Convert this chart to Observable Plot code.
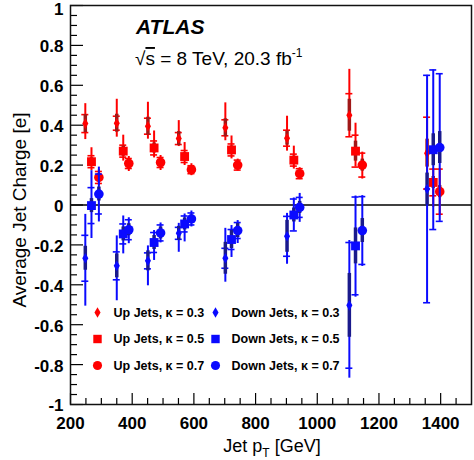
<!DOCTYPE html>
<html><head><meta charset="utf-8">
<script src="https://cdn.jsdelivr.net/npm/d3@7"></script>
<script src="https://cdn.jsdelivr.net/npm/@observablehq/plot@0.6"></script>
<style>body{margin:0;background:#fff}#chart{width:474px;height:460px}</style>
</head><body><div id="chart"></div>
<script>
// ---- data ----
const ptKappa03 = [248, 350, 451, 551, 702, 902, 1104, 1356];
const ptKappa05 = [268, 371, 471, 570, 722, 924, 1124, 1376];
const ptKappa07 = [292, 389, 492, 592, 742, 943, 1146, 1397];

const upK03 = [0.408, 0.41, 0.395, 0.333, 0.387, 0.335, 0.45, 0.26];
const upK05 = [0.217, 0.27, 0.286, 0.243, 0.276, 0.225, 0.27, 0.113];
const upK07 = [0.138, 0.208, 0.213, 0.177, 0.2, 0.157, 0.2, 0.067];
const downK03 = [-0.267, -0.305, -0.28, -0.142, -0.267, -0.157, -0.503, 0.08];
const downK05 = [-0.003, -0.145, -0.188, -0.095, -0.173, -0.05, -0.205, 0.277];
const downK07 = [0.055, -0.124, -0.14, -0.07, -0.128, -0.012, -0.128, 0.288];

// total error (upper / lower), inner error (caps), statistical (thick)
const errHiUpK03 = [0.10, 0.12, 0.12, 0.09, 0.125, 0.11, 0.23, 0.18];
const errLoUpK03 = [0.08, 0.07, 0.065, 0.04, 0.065, 0.065, 0.11, 0.18];
const capUpK03 = [0.045, 0.035, 0.04, 0.03, 0.04, 0.04, 0.108, 0.18];
const statUpK03 = [0.045, 0.045, 0.045, 0.035, 0.045, 0.035, 0.08, 0.07];

const errHiUpK05 = [0.07, 0.08, 0.085, 0.07, 0.07, 0.07, 0.14, 0.07];
const errLoUpK05 = [0.045, 0.05, 0.05, 0.045, 0.045, 0.045, 0.08, 0.125];
const capUpK05 = [0.03, 0.03, 0.035, 0.03, 0.03, 0.03, 0.08, 0.067];
const statUpK05 = [0.02, 0.025, 0.025, 0.02, 0.02, 0.02, 0.05, 0.03];

const errHiUpK07 = [0.04, 0.035, 0.035, 0.03, 0.03, 0.03, 0.065, 0.115];
const errLoUpK07 = [0.04, 0.04, 0.04, 0.03, 0.03, 0.03, 0.07, 0.12];
const capUpK07 = [0.03, 0.025, 0.025, 0.02, 0.025, 0.025, 0.06, 0.113];
const statUpK07 = [0.015, 0.015, 0.015, 0.015, 0.015, 0.015, 0.03, 0.03];

const errHiDownK03 = [0.22, 0.15, 0.075, 0.05, 0.15, 0.115, 0.325, 0.57];
const errLoDownK03 = [0.24, 0.175, 0.125, 0.095, 0.12, 0.14, 0.365, 0.57];
const capDownK03 = [0.115, 0.07, 0.04, 0.03, 0.05, 0.1, 0.315, 0.57];
const statDownK03 = [0.06, 0.06, 0.05, 0.035, 0.08, 0.08, 0.16, 0.08];

const errHiDownK05 = [0.175, 0.09, 0.06, 0.05, 0.07, 0.085, 0.25, 0.4];
const errLoDownK05 = [0.165, 0.1, 0.09, 0.09, 0.09, 0.08, 0.257, 0.4];
const capDownK05 = [0.09, 0.05, 0.05, 0.04, 0.05, 0.08, 0.245, 0.4];
const statDownK05 = [0.035, 0.035, 0.035, 0.03, 0.045, 0.035, 0.09, 0.08];

const errHiDownK07 = [0.135, 0.06, 0.05, 0.04, 0.05, 0.07, 0.175, 0.37];
const errLoDownK07 = [0.14, 0.07, 0.05, 0.04, 0.065, 0.075, 0.18, 0.37];
const capDownK07 = [0.1, 0.05, 0.04, 0.03, 0.04, 0.05, 0.17, 0.37];
const statDownK07 = [0.035, 0.03, 0.03, 0.02, 0.035, 0.03, 0.06, 0.08];

const seriesLabels = ["Up Jets, κ = 0.3", "Up Jets, κ = 0.5", "Up Jets, κ = 0.7",
                      "Down Jets, κ = 0.3", "Down Jets, κ = 0.5", "Down Jets, κ = 0.7"];
const xMajorTicks = [200, 400, 600, 800, 1000, 1200, 1400];
const yMajorTicks = [-1, -0.8, -0.6, -0.4, -0.2, 0, 0.2, 0.4, 0.6, 0.8, 1];
const yTopTick = [1];
const xMinorTicks = d3.range(250, 1500, 50).filter(v => v % 200 !== 0);
const yMinorTicks = d3.range(-0.95, 1, 0.05).map(v => +v.toFixed(2)).filter(v => Math.abs(Math.round(v * 5) - v * 5) > 1e-6);

// ---- styles ----
const RED = "#ff0000", BLUE = "#0a0aff";
const RED_STAT = "#a01818", BLUE_STAT = "#1a1a8c";
const FONT = "'Liberation Sans', Arial, Helvetica, sans-serif";
const symDiamond = {symbol: "diamond", r: 3.2};
const symSquare = {symbol: "square", r: 5.0};
const symCircle = {symbol: "circle", r: 4.8};

const series = [
  {label: seriesLabels[0], x: ptKappa03, y: upK03, hi: errHiUpK03, lo: errLoUpK03, cap: capUpK03, stat: statUpK03, color: RED, statColor: RED_STAT, ...symDiamond},
  {label: seriesLabels[1], x: ptKappa05, y: upK05, hi: errHiUpK05, lo: errLoUpK05, cap: capUpK05, stat: statUpK05, color: RED, statColor: RED_STAT, ...symSquare},
  {label: seriesLabels[2], x: ptKappa07, y: upK07, hi: errHiUpK07, lo: errLoUpK07, cap: capUpK07, stat: statUpK07, color: RED, statColor: RED_STAT, ...symCircle},
  {label: seriesLabels[3], x: ptKappa03, y: downK03, hi: errHiDownK03, lo: errLoDownK03, cap: capDownK03, stat: statDownK03, color: BLUE, statColor: BLUE_STAT, ...symDiamond},
  {label: seriesLabels[4], x: ptKappa05, y: downK05, hi: errHiDownK05, lo: errLoDownK05, cap: capDownK05, stat: statDownK05, color: BLUE, statColor: BLUE_STAT, ...symSquare},
  {label: seriesLabels[5], x: ptKappa07, y: downK07, hi: errHiDownK07, lo: errLoDownK07, cap: capDownK07, stat: statDownK07, color: BLUE, statColor: BLUE_STAT, ...symCircle}
];

const W = 474, H = 460, mL = 70, mR = 3, mT = 5, mB = 56;
const fw = W - mL - mR, fh = H - mT - mB;

const dataMarks = [];
for (const s of series) {
  const rows = s.x.map((x, i) => ({
    x, y: s.y[i],
    hi: s.y[i] + s.hi[i], lo: s.y[i] - s.lo[i],
    sHi: s.y[i] + s.stat[i], sLo: s.y[i] - s.stat[i]
  }));
  const caps = s.x.flatMap((x, i) => [{x, y: s.y[i] + s.cap[i]}, {x, y: s.y[i] - s.cap[i]}]);
  dataMarks.push(
    Plot.ruleX(rows, {x: "x", y1: "lo", y2: "hi", stroke: s.color, strokeWidth: 2}),
    Plot.ruleY(caps, {y: "y", x1: "x", x2: "x", insetLeft: -3.5, insetRight: -3.5, stroke: s.color, strokeWidth: 1.6}),
    Plot.ruleX(rows, {x: "x", y1: "sLo", y2: "sHi", stroke: s.statColor, strokeWidth: 3.5}),
    Plot.dot(rows, {x: "x", y: "y", symbol: s.symbol, r: s.r, fill: s.color, stroke: "none"})
  );
}

// legend (inside the frame, bottom-left)
const legendMarks = [];
const legCols = [{mx: 27, tx: 43}, {mx: 145, tx: 161}];
const legRows = [307, 333.5, 360];
series.forEach((s, k) => {
  const c = legCols[Math.floor(k / 3)], r = legRows[k % 3];
  legendMarks.push(
    Plot.dot([s.label], {frameAnchor: "top-left", dx: c.mx, dy: r, symbol: s.symbol,
      r: s.symbol === "diamond" ? 3.2 : s.r * 0.95, fill: s.color, stroke: "none"}),
    Plot.text([s.label], {text: d => d, frameAnchor: "top-left", dx: c.tx, dy: r, textAnchor: "start",
      lineAnchor: "middle", fontSize: 12.5, fontWeight: "bold", fill: "#000"})
  );
});

const svg = Plot.plot({
  width: W, height: H, marginLeft: mL, marginRight: mR, marginTop: mT, marginBottom: mB,
  style: {fontFamily: FONT, background: "#fff", color: "#000"},
  x: {domain: [200, 1500]},
  y: {domain: [-1, 1]},
  marks: [
    Plot.ruleX(xMinorTicks, {x: d => d, insetTop: fh - 6, stroke: "#000", strokeWidth: 1.2}),
    Plot.ruleX(xMajorTicks, {x: d => d, insetTop: fh - 11, stroke: "#000", strokeWidth: 1.2}),
    Plot.ruleY(yMinorTicks, {y: d => d, insetRight: fw - 7, stroke: "#000", strokeWidth: 1.2}),
    Plot.ruleY(yMajorTicks, {y: d => d, insetRight: fw - 13, stroke: "#000", strokeWidth: 1.2}),
    Plot.axisX({ticks: xMajorTicks, tickSize: 0, tickPadding: 12, tickFormat: d => String(d),
      fontSize: 17, fontWeight: "bold", label: null}),
    Plot.axisY({ticks: yMajorTicks.filter(v => v !== 1), tickSize: 0, tickPadding: 7, tickFormat: d => String(+d.toFixed(1)),
      fontSize: 17, fontWeight: "bold", label: null, dy: 1.5}),
    Plot.axisY({ticks: yTopTick, tickSize: 0, tickPadding: 7, tickFormat: d => String(d),
      fontSize: 17, fontWeight: "bold", label: null, dy: 4}),
    Plot.ruleY([0], {stroke: "#000", strokeWidth: 1.5}),
    ...dataMarks,
    ...legendMarks,
    Plot.frame({stroke: "#111", strokeWidth: 1.5})
  ]
});
document.getElementById("chart").appendChild(svg);

// titles & axis labels as real text
const g = d3.select(svg).append("g").attr("font-family", FONT).attr("fill", "#000").attr("text-anchor", "start");
g.append("text").attr("x", 136).attr("y", 34).attr("font-size", 21)
  .attr("font-weight", "bold").attr("font-style", "italic").text("ATLAS");
const e = g.append("text").attr("x", 135).attr("y", 65).attr("font-size", 19);
e.append("tspan").text("√");
e.append("tspan").attr("style", "text-decoration: overline").text("s");
e.append("tspan").text(" = 8 TeV, 20.3 fb");
e.append("tspan").attr("dy", -8).attr("font-size", 12).text("-1");
const xl = g.append("text").attr("x", 272).attr("y", 452).attr("font-size", 18).attr("text-anchor", "middle");
xl.append("tspan").text("Jet p");
xl.append("tspan").attr("dy", 5).attr("font-size", 12).text("T");
xl.append("tspan").attr("dy", -5).text(" [GeV]");
g.append("text").attr("transform", "translate(26,210) rotate(-90)").attr("font-size", 19)
  .attr("text-anchor", "middle").text("Average Jet Charge [e]");
</script>
</body></html>
